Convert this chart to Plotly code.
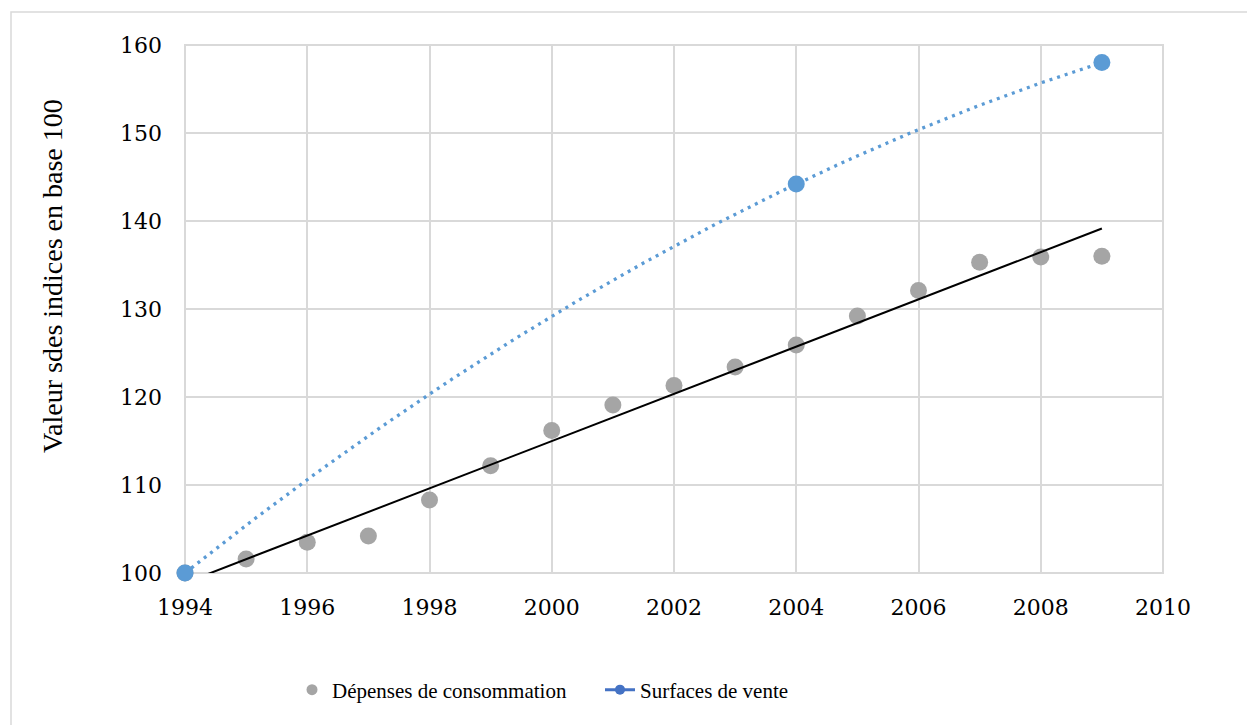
import numpy as np
import plotly.graph_objects as go

# Annual index values (base 100 in 1994)
years = [1994, 1995, 1996, 1997, 1998, 1999, 2000, 2001, 2002, 2003,
         2004, 2005, 2006, 2007, 2008, 2009]
depenses = [100.0, 101.6, 103.5, 104.2, 108.3, 112.2, 116.2, 119.1, 121.3,
            123.4, 125.9, 129.2, 132.1, 135.3, 135.9, 136.0]

surface_years = [1994, 2004, 2009]
surfaces = [100.0, 144.2, 158.0]

x_ticks = [1994, 1996, 1998, 2000, 2002, 2004, 2006, 2008, 2010]
y_ticks = [100, 110, 120, 130, 140, 150, 160]

GREY = "#A5A5A5"
BLUE = "#5B9BD5"
BLUE_LEGEND = "#4472C4"
GRID = "#D9D9D9"

# Linear trend for spending, quadratic trend for retail surface
lin = np.polyfit(years, depenses, 1)
trend_x = np.array([years[0], years[-1]], dtype=float)
trend_y = np.polyval(lin, trend_x)

quad = np.polyfit(surface_years, surfaces, 2)
curve_x = np.linspace(surface_years[0], surface_years[-1], 200)
curve_y = np.polyval(quad, curve_x)

fig = go.Figure()

fig.add_trace(go.Scatter(
    x=years, y=depenses, mode="markers",
    marker=dict(color=GREY, size=17),
    cliponaxis=False, showlegend=False, hoverinfo="x+y",
))
fig.add_trace(go.Scatter(
    x=trend_x, y=trend_y, mode="lines",
    line=dict(color="black", width=2),
    showlegend=False, hoverinfo="skip",
))
fig.add_trace(go.Scatter(
    x=curve_x, y=curve_y, mode="lines",
    line=dict(color=BLUE, width=3.3, dash="3px,5px"),
    showlegend=False, hoverinfo="skip",
))
fig.add_trace(go.Scatter(
    x=surface_years, y=surfaces, mode="markers",
    marker=dict(color=BLUE, size=17),
    cliponaxis=False, showlegend=False, hoverinfo="x+y",
))

# Legend entries
fig.add_trace(go.Scatter(
    x=[None], y=[None], mode="markers", name="Dépenses de consommation",
    marker=dict(color=GREY, size=11),
))
fig.add_trace(go.Scatter(
    x=[None], y=[None], mode="lines+markers", name="Surfaces de vente",
    marker=dict(color=BLUE_LEGEND, size=10),
    line=dict(color=BLUE_LEGEND, width=3),
))

L, R, T, B = 185, 84, 45, 152
W, H = 1247, 725
pw = W - L - R
ph = H - T - B

def px_x(p):
    return (p - L) / pw

def px_y(p):
    return (H - B - p) / ph

fig.update_layout(
    width=W, height=H,
    margin=dict(l=L, r=R, t=T, b=B),
    paper_bgcolor="white", plot_bgcolor="white",
    font=dict(family="Liberation Serif", color="black"),
    xaxis=dict(
        range=[1994, 2010], tickvals=x_ticks, ticktext=[str(v) for v in x_ticks],
        showgrid=True, gridcolor=GRID, gridwidth=2,
        zeroline=False, showline=False, ticks="",
        tickfont=dict(family="DejaVu Serif", size=22, color="black"),
        ticklabelstandoff=19,
    ),
    yaxis=dict(
        range=[100, 160], tickvals=y_ticks, ticktext=[str(v) for v in y_ticks],
        showgrid=True, gridcolor=GRID, gridwidth=2,
        zeroline=False, showline=False, ticks="",
        tickfont=dict(family="DejaVu Serif", size=22, color="black"),
        ticklabelstandoff=22,
    ),
    legend=dict(
        orientation="h", x=px_x(292), xanchor="left",
        y=px_y(690), yanchor="middle",
        font=dict(family="Liberation Serif", size=21, color="black"),
        itemwidth=30, entrywidth=263, entrywidthmode="pixels",
        bgcolor="rgba(0,0,0,0)",
    ),
    shapes=[
        # plot-area frame
        dict(type="rect", xref="paper", yref="paper", x0=0, x1=1, y0=0, y1=1,
             line=dict(color=GRID, width=2), layer="below"),
        # outer chart border
        dict(type="rect", xref="paper", yref="paper",
             x0=px_x(11), x1=px_x(1260), y0=px_y(740), y1=px_y(12),
             line=dict(color=GRID, width=1.5)),
    ],
    annotations=[
        dict(text="Valeur sdes indices en base 100", textangle=-90,
             xref="paper", yref="paper", x=px_x(52), y=px_y(276),
             xanchor="center", yanchor="middle", showarrow=False,
             font=dict(family="Liberation Serif", size=28, color="black")),
    ],
)

fig.write_html("out.html")
